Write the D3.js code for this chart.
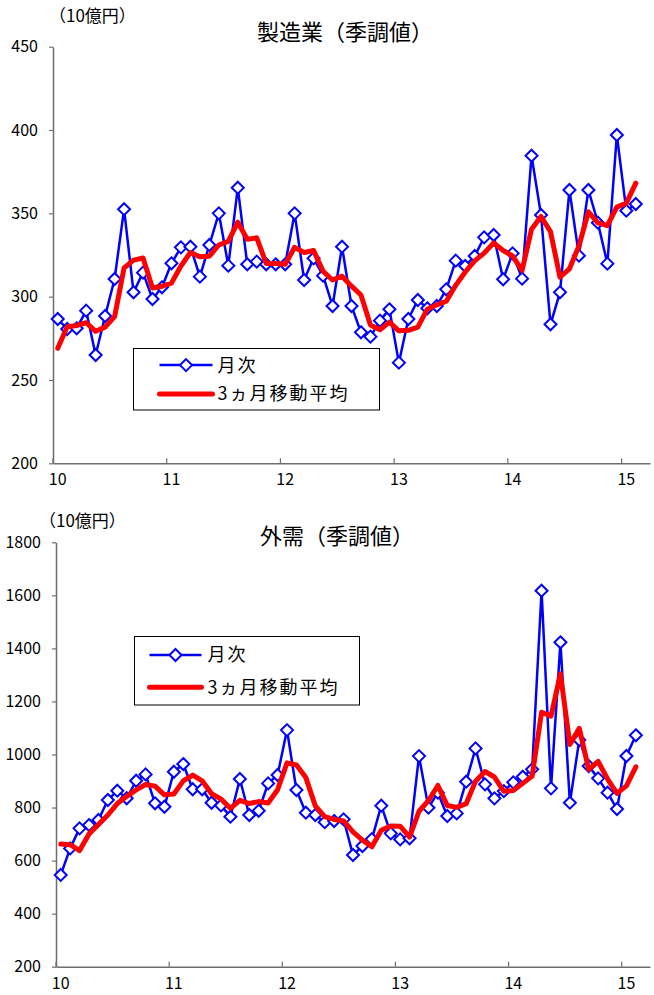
<!DOCTYPE html>
<html><head><meta charset="utf-8">
<script src="https://cdn.jsdelivr.net/npm/d3@7"></script>
<style>
body{margin:0;background:#fff}
text{font-family:"Noto Sans CJK JP","Noto Sans",sans-serif;fill:#000}
</style>
</head><body>
<svg id="c" width="654" height="995"></svg>
<script>
// ---------- data ----------
const categories = [
 "10-01","10-02","10-03","10-04","10-05","10-06","10-07","10-08","10-09","10-10","10-11","10-12",
 "11-01","11-02","11-03","11-04","11-05","11-06","11-07","11-08","11-09","11-10","11-11","11-12",
 "12-01","12-02","12-03","12-04","12-05","12-06","12-07","12-08","12-09","12-10","12-11","12-12",
 "13-01","13-02","13-03","13-04","13-05","13-06","13-07","13-08","13-09","13-10","13-11","13-12",
 "14-01","14-02","14-03","14-04","14-05","14-06","14-07","14-08","14-09","14-10","14-11","14-12",
 "15-01","15-02","15-03"];
const yearCategories = ["10-01","11-01","12-01","13-01","14-01","15-01"];
const yearLabels = ["10","11","12","13","14","15"];
const legendLabels = ["月次","3ヵ月移動平均"];

const mfgTitle = "製造業（季調値）";
const extTitle = "外需（季調値）";
const unitLabel = "（10億円）";

const mfgTicks = [200,250,300,350,400,450];
const extTicks = [200,400,600,800,1000,1200,1400,1600,1800];

const mfgMonthly = [286.6,280.6,281,291.6,265,288.4,310.6,352.5,302.6,314.4,298.6,305.6,
 320,329.6,330,312,331,350,318.6,365.4,319.4,321,319.4,319.4,
 319.4,350,310,323,312.6,294.4,330,294.4,278.6,276,285.6,292.4,
 260.4,286.6,298,293,294.4,304.4,321.6,318.4,324.4,335.6,337,310.4,
 326,310.8,384.6,349,283.4,302.6,364,324.6,364,344.4,319.8,397,
 351.6,355.6];
const mfgAvg = [269.0,282.0,282.7,284.4,279.2,281.7,288.0,317.2,321.9,323.2,305.2,306.2,
 308.1,318.4,326.5,323.9,324.3,331.0,333.2,344.7,334.5,335.3,319.9,319.9,
 319.4,329.6,326.5,327.7,315.2,310.0,312.3,306.3,301.0,283.0,280.1,284.7,
 279.5,279.8,281.7,292.5,295.1,297.3,306.8,314.8,321.5,326.1,332.3,327.7,
 324.5,315.7,340.5,348.1,339.0,311.7,316.7,330.4,350.9,344.3,342.7,353.7,
 356.1,368.1];

const extMonthly = [546,646,721.6,734,753,828.4,863.6,835,901,925,816,803,
 935,964,869,869,818,808,765.6,907.6,772,788,891,922.6,
 1092,866,780.6,772,745,749,755.5,621,655,681,807,702.7,
 680,684,994,799.5,856,768,778,897.5,1023,887.5,834.7,862,
 895,916.4,944,1617.5,872.4,1423,818.3,1054.6,956.6,910,856,794.5,
 994.3,1072.4];
const extAvg = [662.5,660.0,637.9,700.5,736.2,771.8,815.0,842.3,866.5,887.0,880.7,848.0,
 851.3,900.7,922.7,900.7,852.0,831.7,797.2,827.1,815.1,822.5,817.0,867.2,
 968.5,960.2,912.9,806.2,765.9,755.3,749.8,708.5,677.2,652.3,714.3,730.2,
 729.9,688.9,786.0,825.8,883.2,807.8,800.7,814.5,899.5,936.0,915.1,861.4,
 863.9,891.1,918.5,1159.3,1144.6,1304.3,1037.9,1098.6,943.2,973.7,907.5,853.5,
 881.6,953.7];

// ---------- drawing ----------
const svg = d3.select("#c");
const BLUE = "#0000ff", RED = "#ff0000", AXIS = "#6e6e6e";

function diamond(g, cx, cy) {
  const s = 6;
  g.append("path")
    .attr("d", `M${cx},${cy - s}L${cx + s},${cy}L${cx},${cy + s}L${cx - s},${cy}Z`)
    .attr("fill", "#fff").attr("stroke", BLUE).attr("stroke-width", 2);
}

function panel(cfg) {
  const g = svg.append("g");
  const x = d3.scaleBand().domain(categories).range([cfg.left, cfg.right]);
  const y = d3.scaleLinear().domain(cfg.domain).range([cfg.bottom, cfg.top]);
  const cx = c => x(c) + x.bandwidth() / 2;

  // title & unit
  g.append("text").attr("x", cfg.titleX).attr("y", cfg.titleY)
    .attr("text-anchor", "middle").attr("font-size", 22)
    .text(cfg.title);
  g.append("text").attr("x", cfg.unitX).attr("y", cfg.unitY)
    .attr("font-size", 17).text(unitLabel);

  // y axis
  const ya = g.append("g").attr("transform", `translate(${cfg.left},0)`)
    .call(d3.axisLeft(y).tickValues(cfg.ticks).tickSize(4).tickSizeOuter(0).tickPadding(11)
      .tickFormat(d3.format("d")));
  ya.select(".domain").attr("stroke", AXIS).attr("stroke-width", 1.5);
  ya.selectAll(".tick line").attr("stroke", AXIS).attr("stroke-width", 1.2);
  ya.selectAll(".tick text").attr("font-size", 16).attr("font-family", '"Noto Sans CJK JP",sans-serif').attr("fill", "#111");

  // x axis
  const xa = g.append("g").attr("transform", `translate(0,${cfg.bottom})`)
    .call(d3.axisBottom(x).tickValues(yearCategories).tickSize(0).tickSizeOuter(0)
      .tickPadding(cfg.xPad).tickFormat((d, i) => yearLabels[i]));
  xa.select(".domain").attr("stroke", AXIS).attr("stroke-width", 1.5);
  xa.selectAll(".tick text").attr("font-size", 16).attr("font-family", '"Noto Sans CJK JP",sans-serif').attr("fill", "#111");
  g.selectAll(".xt").data(yearCategories).enter().append("line")
    .attr("x1", d => x(d)).attr("x2", d => x(d))
    .attr("y1", cfg.bottom).attr("y2", cfg.bottom - 5)
    .attr("stroke", AXIS).attr("stroke-width", 1.2);

  // monthly line
  const idx = d3.range(cfg.monthly.length);
  g.append("path").datum(idx)
    .attr("d", d3.line().x(i => cx(categories[i])).y(i => y(cfg.monthly[i])))
    .attr("fill", "none").attr("stroke", BLUE).attr("stroke-width", 2.5)
    .attr("stroke-linejoin", "round");
  const mk = g.append("g");
  idx.forEach(i => diamond(mk, cx(categories[i]), y(cfg.monthly[i])));

  // moving average
  g.append("path").datum(idx)
    .attr("d", d3.line().x(i => cx(categories[i])).y(i => y(cfg.avg[i])))
    .attr("fill", "none").attr("stroke", RED).attr("stroke-width", 5)
    .attr("stroke-linejoin", "round").attr("stroke-linecap", "round");

  // legend
  const L = cfg.legend;
  const lg = g.append("g");
  lg.append("rect").attr("x", L.x).attr("y", L.y).attr("width", L.w).attr("height", L.h)
    .attr("fill", "#fff").attr("stroke", "#000").attr("stroke-width", 1);
  const r1 = L.y + L.h * 0.27, r2 = L.y + L.h * 0.74;
  lg.append("line").attr("x1", L.x + L.l0).attr("x2", L.x + L.l1).attr("y1", r1).attr("y2", r1)
    .attr("stroke", BLUE).attr("stroke-width", 2.5);
  diamond(lg, L.x + (L.l0 + L.l1) / 2, r1);
  lg.append("line").attr("x1", L.x + L.l0).attr("x2", L.x + L.l1).attr("y1", r2).attr("y2", r2)
    .attr("stroke", RED).attr("stroke-width", 5).attr("stroke-linecap", "round");
  lg.append("text").attr("x", L.x + L.tx).attr("y", r1).attr("dy", "0.36em")
    .attr("font-size", 18).attr("letter-spacing", 2).text(legendLabels[0]);
  lg.append("text").attr("x", L.x + L.tx).attr("y", r2).attr("dy", "0.36em")
    .attr("font-size", 18).attr("letter-spacing", 2).text(legendLabels[1]);
}

panel({
  left: 53, right: 650, top: 46.7, bottom: 463.3, domain: [200, 450], ticks: mfgTicks,
  title: mfgTitle, titleX: 345, titleY: 40, unitX: 49, unitY: 22, xPad: 10,
  monthly: mfgMonthly, avg: mfgAvg,
  legend: {x: 133.5, y: 348.5, w: 246, h: 61.5, l0: 26, l1: 79, tx: 84}
});
panel({
  left: 56, right: 650, top: 542.3, bottom: 966.7, domain: [200, 1800], ticks: extTicks,
  title: extTitle, titleX: 337, titleY: 544, unitX: 39, unitY: 527, xPad: 11,
  monthly: extMonthly, avg: extAvg,
  legend: {x: 134.5, y: 636.5, w: 225, h: 68.5, l0: 15, l1: 67, tx: 73}
});
</script>
</body></html>
